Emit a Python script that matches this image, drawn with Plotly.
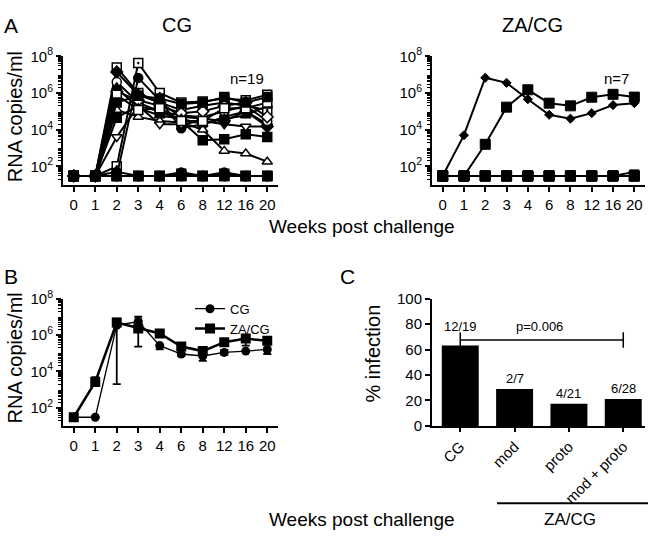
import plotly.graph_objects as go

W, H = 650, 543
FONT = "Arial, 'Liberation Sans', sans-serif"

weeks = ["0", "1", "2", "3", "4", "6", "8", "12", "16", "20"]

# Panel A, CG group: one list per animal (RNA copies/ml at each week)
cg_loads = [
    [30, 30, 2.5e7, 1.0e6, 3.0e5, 1.2e5, 2.0e5, 3.0e5, 2.0e5, 1.2e5],
    [30, 30, 100, 4.3e7, 1.0e6, 3.0e5, 3.5e5, 5.0e5, 4.0e5, 8.0e5],
    [30, 30, 30, 6.7e6, 4.0e5, 1.2e4, 2.0e4, 5.0e4, 1.0e5, 2.0e4],
    [30, 30, 1.2e5, 5.0e4, 3.0e4, 2.5e4, 1.0e4, 700, 500, 180],
    [30, 30, 4.5e4, 2.0e5, 1.0e5, 3.0e4, 2.7e3, 3.0e3, 5.6e3, 4.0e3],
    [30, 30, 4.0e3, 2.0e5, 2.0e4, 2.0e4, 3.0e4, 2.0e4, 1.5e4, 1.5e4],
    [30, 30, 1.4e7, 8.0e5, 3.0e5, 5.0e4, 4.0e4, 3.0e4, 1.0e5, 1.5e4],
    [30, 30, 4.0e6, 3.0e5, 1.0e5, 6.0e4, 5.0e4, 1.0e5, 2.0e5, 3.0e4],
    [30, 30, 1.2e6, 4.0e5, 2.0e5, 8.0e4, 1.0e5, 2.0e5, 3.0e5, 5.0e4],
    [30, 30, 2.0e6, 1.5e5, 6.0e4, 4.0e4, 2.0e4, 4.0e4, 6.0e4, 2.0e5],
    [30, 30, 8.0e5, 1.2e5, 1.5e5, 3.0e4, 3.0e4, 1.5e5, 1.5e5, 3.0e5],
    [30, 30, 3.0e5, 7.0e5, 5.0e5, 2.5e5, 3.0e5, 6.0e5, 3.0e5, 6.0e5],
    [30, 30, 30, 30, 30, 30, 30, 30, 30, 30],
    [30, 30, 50, 30, 30, 47, 30, 47, 30, 30],
    [30, 30, 30, 30, 30, 40, 30, 40, 30, 30],
    [30, 30, 30, 30, 30, 30, 30, 30, 30, 30],
    [30, 30, 30, 30, 30, 30, 30, 30, 30, 30],
    [30, 30, 30, 30, 30, 30, 30, 30, 30, 30],
    [30, 30, 30, 30, 30, 30, 30, 30, 30, 30],
]
cg_symbols = ["square-dot", "square-dot", "circle", "triangle-up", "square", "triangle-down",
              "diamond", "circle", "diamond", "triangle-up", "square", "square",
              "circle", "circle", "square", "circle", "square", "circle", "square"]
cg_open = [True, True, False, True, False, True, False, True, True, False, True, False,
           False, False, False, False, False, False, False]

# Panel A, ZA/CG group
za_loads = [
    [30, 5.0e3, 6.8e6, 3.6e6, 4.6e5, 6.5e4, 4.0e4, 8.0e4, 2.2e5, 2.8e5],
    [30, 30, 1.6e3, 1.7e5, 1.5e6, 2.8e5, 2.0e5, 5.9e5, 8.5e5, 6.0e5],
    [30, 30, 30, 30, 30, 30, 30, 30, 30, 50],
    [30, 30, 30, 30, 30, 30, 30, 30, 30, 30],
    [30, 30, 30, 30, 30, 30, 30, 30, 30, 30],
    [30, 30, 30, 30, 30, 30, 30, 30, 30, 30],
    [30, 30, 30, 30, 30, 30, 30, 30, 30, 30],
]
za_symbols = ["diamond", "square", "triangle-down", "square", "square", "square", "square"]
za_sizes = [7, 10, 8, 10, 10, 10, 10]

# Panel B, group means and error bars
cg_mean = [30, 30, 3.4e6, 5.5e6, 2.6e5, 9.0e4, 7.0e4, 1.1e5, 1.3e5, 1.6e5]
cg_err_up = [0, 0, 2.0e6, 4.5e6, 0, 0, 0, 4.0e4, 0, 0]
cg_err_down = [0, 0, 0, 0, 1.0e5, 2.0e4, 3.2e4, 3.0e4, 0, 7.0e4]
za_mean = [30, 2.6e3, 4.8e6, 2.3e6, 1.2e6, 2.3e5, 1.3e5, 4.0e5, 6.3e5, 4.8e5]
za_err_up = [0, 2.2e3, 3.0e6, 0, 0, 0, 0, 0, 2.5e5, 0]
za_err_down = [0, 0, 4.798e6, 2.07e6, 0, 0, 0, 0, 3.7e5, 0]

# Panel C
groups = ["CG", "mod", "proto", "mod + proto"]
pct_infection = [63.2, 29.0, 17.5, 21.2]
count_labels = ["12/19", "2/7", "4/21", "6/28"]
p_label = "p=0.006"


def px(x):
    return x / W


def py(y):
    return 1 - y / H


fig = go.Figure()

line_c = "black"
for loads, sym, op in zip(cg_loads, cg_symbols, cg_open):
    fig.add_trace(go.Scatter(
        x=weeks, y=loads, mode="lines+markers", xaxis="x", yaxis="y", showlegend=False,
        line=dict(color=line_c, width=2),
        marker=dict(symbol=sym, size=9,
                    color="white" if op else "black",
                    line=dict(color="black", width=1.5)),
    ))

for loads, sym, s in zip(za_loads[::-1], za_symbols[::-1], za_sizes[::-1]):
    fig.add_trace(go.Scatter(
        x=weeks, y=loads, mode="lines+markers", xaxis="x2", yaxis="y2", showlegend=False,
        line=dict(color=line_c, width=2),
        marker=dict(symbol=sym, size=s, color="black", line=dict(color="black", width=1)),
    ))

fig.add_trace(go.Scatter(
    x=weeks, y=za_mean, mode="lines+markers", xaxis="x3", yaxis="y3", name="ZA/CG",
    line=dict(color="black", width=2.5),
    marker=dict(symbol="square", size=10, color="black"),
    error_y=dict(type="data", array=za_err_up, arrayminus=za_err_down, symmetric=False,
                 color="black", thickness=1.8, width=4),
))
fig.add_trace(go.Scatter(
    x=weeks, y=cg_mean, mode="lines+markers", xaxis="x3", yaxis="y3", name="CG",
    line=dict(color="black", width=1.3),
    marker=dict(symbol="circle", size=9, color="black"),
    error_y=dict(type="data", array=cg_err_up, arrayminus=cg_err_down, symmetric=False,
                 color="black", thickness=1.8, width=4),
))

fig.add_trace(go.Bar(
    x=groups, y=pct_infection, xaxis="x4", yaxis="y4", showlegend=False,
    marker=dict(color="black", line=dict(width=0)), width=0.68,
))
fig.add_trace(go.Scatter(
    x=[groups[0], groups[-1]], y=[67.5, 67.5], mode="lines+markers", xaxis="x4", yaxis="y4",
    showlegend=False, line=dict(color="black", width=1.5),
    marker=dict(symbol="line-ns", size=11, line=dict(color="black", width=1.5)),
))

minor_vals = [k * 10 ** e for e in range(1, 8) for k in range(2, 10)]
logy = dict(
    type="log", range=[1, 8], tickmode="array",
    tickvals=[1e2, 1e4, 1e6, 1e8],
    ticktext=["10<sup>2</sup>", "10<sup>4</sup>", "10<sup>6</sup>", "10<sup>8</sup>"],
    ticks="outside", ticklen=5, tickwidth=1.5, tickcolor="black",
    showline=True, linewidth=2, linecolor="black", showgrid=False, zeroline=False,
    tickfont=dict(size=15, color="black", family=FONT),
    minor=dict(tickmode="array", tickvals=minor_vals, ticks="outside", ticklen=3,
               tickwidth=1, tickcolor="black", showgrid=False),
)
catx = dict(
    type="category", range=[-0.5, 9.5], ticks="outside", ticklen=5, tickwidth=1.5,
    tickcolor="black", showline=True, linewidth=2, linecolor="black", showgrid=False,
    zeroline=False, tickfont=dict(size=15, color="black", family=FONT),
)

fig.update_layout(
    width=W, height=H, margin=dict(l=0, r=0, t=0, b=0),
    paper_bgcolor="white", plot_bgcolor="white",
    font=dict(family=FONT, color="black"),
    xaxis=dict(catx, domain=[px(63), px(278)], anchor="y"),
    yaxis=dict(logy, domain=[py(180), py(47)], anchor="x"),
    xaxis2=dict(catx, domain=[px(432), px(645)], anchor="y2"),
    yaxis2=dict(logy, domain=[py(180), py(47)], anchor="x2"),
    xaxis3=dict(catx, domain=[px(63), px(278)], anchor="y3"),
    yaxis3=dict(logy, domain=[py(430), py(298)], anchor="x3"),
    xaxis4=dict(type="category", range=[-0.52, 3.4], domain=[px(432), px(645)], anchor="y4",
                ticks="outside", ticklen=4, tickwidth=1.5, tickcolor="black", tickangle=-45,
                showline=True, linewidth=2, linecolor="black", showgrid=False,
                tickfont=dict(size=15, color="black", family=FONT)),
    yaxis4=dict(range=[0, 100], domain=[py(430), py(298)], anchor="x4",
                tickvals=[0, 20, 40, 60, 80, 100], ticks="outside", ticklen=5, tickwidth=1.5,
                tickcolor="black", showline=True, linewidth=2, linecolor="black",
                showgrid=False, zeroline=False,
                tickfont=dict(size=15, color="black", family=FONT)),
    legend=dict(x=px(190), y=py(293), xanchor="left", yanchor="top",
                traceorder="reversed", itemwidth=30, tracegroupgap=0,
                font=dict(size=13, color="black", family=FONT),
                bgcolor="rgba(0,0,0,0)"),
    bargap=0.3,
)

ann = []


def txt(x, y, s, size, angle=0, xanchor="center"):
    ann.append(dict(x=px(x), y=py(y), xref="paper", yref="paper", text=s, showarrow=False,
                    font=dict(size=size, color="black", family=FONT), textangle=angle,
                    xanchor=xanchor, yanchor="middle"))


txt(2, 15, "A", 21, xanchor="left")
txt(2, 275, "B", 21, xanchor="left")
txt(338, 275, "C", 21, xanchor="left")
txt(177, 15, "CG", 20)
txt(532, 15, "ZA/CG", 20)
txt(15, 110, "RNA copies/ml", 20, angle=-90)
txt(15, 360, "RNA copies/ml", 20, angle=-90)
txt(373, 355, "% infection", 20, angle=-90)
txt(247, 70, "n=19", 15)
txt(616, 70, "n=7", 15)
txt(362, 223, "Weeks post challenge", 19)
txt(362, 527, "Weeks post challenge", 19)
txt(570, 527, "ZA/CG", 17)

for i, (g, v, lab) in enumerate(zip(groups, pct_infection, count_labels)):
    yv = 78 if i == 0 else v + 8
    ann.append(dict(x=g, y=yv, xref="x4", yref="y4", text=lab, showarrow=False,
                    font=dict(size=13, color="black", family=FONT), yanchor="middle"))
ann.append(dict(x=1.45, y=78, xref="x4", yref="y4", text=p_label, showarrow=False,
                font=dict(size=13, color="black", family=FONT), yanchor="middle"))

fig.update_layout(annotations=ann)
fig.add_shape(type="line", xref="paper", yref="paper", x0=px(497), x1=px(648),
              y0=py(510), y1=py(510), line=dict(color="black", width=2))

fig.write_html("out.html", config={"displayModeBar": False},
               post_script="document.body.style.margin='0';document.body.style.overflow='hidden';")
